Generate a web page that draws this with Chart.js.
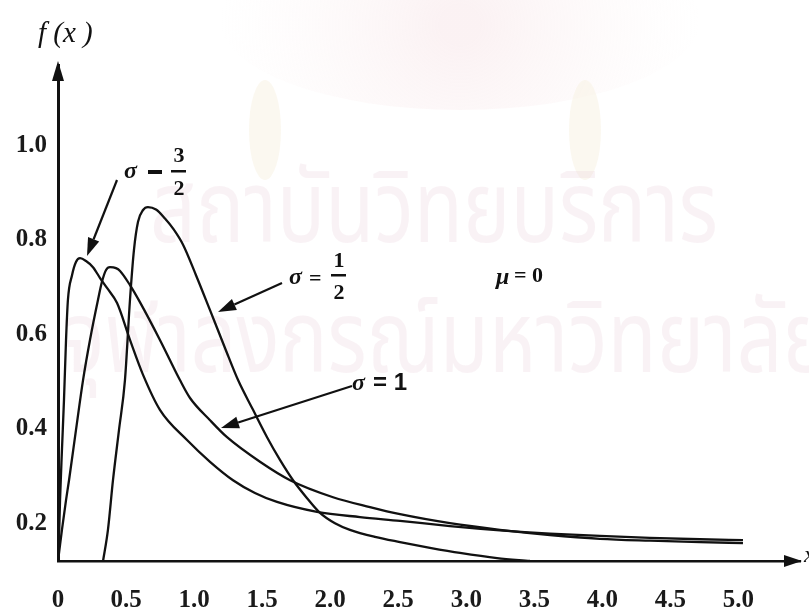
<!DOCTYPE html>
<html><head><meta charset="utf-8">
<script src="https://cdn.jsdelivr.net/npm/chart.js@4.4.1/dist/chart.umd.min.js"></script>
<style>html,body{margin:0;padding:0;background:#fff;overflow:hidden}canvas{display:block}</style>
</head><body>
<canvas id="c" width="809" height="610"></canvas>
<script>
// ---- data ----
const xTickValues = [0, 0.5, 1, 1.5, 2, 2.5, 3, 3.5, 4, 4.5, 5];
const xTickLabels = ['0', '0.5', '1.0', '1.5', '2.0', '2.5', '3.0', '3.5', '4.0', '4.5', '5.0'];
const yTickValues = [0.2, 0.4, 0.6, 0.8, 1.0];
const yTickLabels = ['0.2', '0.4', '0.6', '0.8', '1.0'];

const sigma32X = [0,0.007,0.015,0.029,0.044,0.059,0.073,0.103,0.132,0.162,0.206,0.257,0.309,0.360,0.434,0.529,0.625,0.749,0.948,1.117,1.286,1.447,1.609,1.903,2.219,2.513,2.880,3.247,3.615,3.982,4.349,4.717,5.033];
const sigma32Y = [0.120,0.164,0.249,0.355,0.461,0.588,0.673,0.725,0.753,0.761,0.755,0.742,0.719,0.698,0.666,0.588,0.514,0.440,0.376,0.330,0.291,0.264,0.245,0.224,0.213,0.205,0.194,0.185,0.178,0.173,0.169,0.166,0.164];

const sigma1X = [0,0.029,0.059,0.081,0.132,0.184,0.235,0.294,0.323,0.353,0.382,0.426,0.456,0.529,0.602,0.749,0.896,0.970,1.117,1.242,1.484,1.705,2.021,2.292,2.513,2.880,3.247,3.615,3.982,4.349,4.717,5.033];
const sigma1Y = [0.120,0.186,0.249,0.291,0.397,0.503,0.588,0.673,0.711,0.736,0.742,0.740,0.734,0.704,0.668,0.588,0.503,0.465,0.418,0.382,0.330,0.291,0.255,0.234,0.219,0.200,0.186,0.175,0.167,0.163,0.160,0.158];

const sigmaHalfX = [0.331,0.367,0.404,0.448,0.492,0.529,0.558,0.588,0.625,0.661,0.720,0.786,0.850,0.918,1.014,1.117,1.227,1.323,1.433,1.536,1.631,1.727,1.830,1.925,2.035,2.145,2.329,2.513,2.733,2.954,3.226,3.468];
const sigmaHalfY = [0.120,0.186,0.291,0.397,0.503,0.673,0.778,0.838,0.863,0.869,0.864,0.845,0.822,0.790,0.725,0.651,0.571,0.503,0.440,0.382,0.334,0.291,0.253,0.222,0.200,0.186,0.171,0.160,0.148,0.137,0.126,0.120];

const watermarkLines = ['สถาบันวิทยบริการ', 'จุฬาลงกรณ์มหาวิทยาลัย'];

const pts = (xs, ys) => xs.map((x, i) => ({x, y: ys[i]}));

const serif = "'Liberation Serif','DejaVu Serif',serif";

function arrow(ctx, x1, y1, x2, y2, head, half) {
  const a = Math.atan2(y2 - y1, x2 - x1);
  const bx = x2 - head * Math.cos(a), by = y2 - head * Math.sin(a);
  ctx.beginPath(); ctx.moveTo(x1, y1); ctx.lineTo(bx, by); ctx.stroke();
  ctx.beginPath();
  ctx.moveTo(x2, y2);
  ctx.lineTo(bx + half * Math.sin(a), by - half * Math.cos(a));
  ctx.lineTo(bx - half * Math.sin(a), by + half * Math.cos(a));
  ctx.closePath(); ctx.fill();
}

function fitText(ctx, text, x0, x1, baseline) {
  const w = ctx.measureText(text).width;
  ctx.save();
  ctx.translate(x0, baseline);
  ctx.scale((x1 - x0) / w, 1);
  ctx.fillText(text, 0, 0);
  ctx.restore();
}

const watermark = {
  id: 'watermark',
  beforeDraw(chart) {
    const ctx = chart.ctx;
    ctx.save();
    // faint emblem
    const g = ctx.createRadialGradient(460, 25, 20, 460, 25, 240);
    g.addColorStop(0, 'rgba(240,205,210,0.26)');
    g.addColorStop(1, 'rgba(248,230,230,0.0)');
    ctx.fillStyle = g;
    ctx.beginPath(); ctx.ellipse(460, 20, 240, 90, 0, 0, Math.PI * 2); ctx.fill();
    ctx.fillStyle = 'rgba(248,242,228,0.55)';
    ctx.beginPath(); ctx.ellipse(265, 130, 16, 50, 0, 0, Math.PI * 2); ctx.fill();
    ctx.beginPath(); ctx.ellipse(585, 130, 16, 50, 0, 0, Math.PI * 2); ctx.fill();
    // faint Thai text
    ctx.fillStyle = 'rgba(232,200,214,0.24)';
    ctx.textBaseline = 'alphabetic';
    ctx.textAlign = 'left';
    ctx.font = "100px 'Noto Sans Thai','Noto Sans','DejaVu Sans',sans-serif";
    fitText(ctx, watermarkLines[0], 150, 718, 242);
    fitText(ctx, watermarkLines[1], 62, 830, 372);
    ctx.restore();
  }
};

const annotations = {
  id: 'annotations',
  afterDraw(chart) {
    const ctx = chart.ctx;
    const ca = chart.chartArea;
    ctx.save();
    ctx.fillStyle = '#111';
    ctx.strokeStyle = '#111';
    // axis arrowheads
    ctx.beginPath(); ctx.moveTo(ca.left, ca.top - 4); ctx.lineTo(ca.left - 6, ca.top + 16); ctx.lineTo(ca.left + 6, ca.top + 16); ctx.closePath(); ctx.fill();
    ctx.beginPath(); ctx.moveTo(ca.right + 2, ca.bottom); ctx.lineTo(ca.right - 16, ca.bottom - 6); ctx.lineTo(ca.right - 16, ca.bottom + 6); ctx.closePath(); ctx.fill();
    // axis titles
    ctx.textBaseline = 'middle';
    ctx.textAlign = 'left';
    ctx.font = 'italic 29px ' + serif;
    ctx.fillText('f (x )', 38, 34);
    ctx.font = 'italic 24px ' + serif;
    ctx.fillText('x', 804, 556);

    // sigma = 3/2
    ctx.font = 'italic bold 24px ' + serif;
    ctx.fillText('σ', 124, 172);
    ctx.fillRect(148, 170, 14, 4);
    ctx.font = 'bold 22px ' + serif;
    ctx.textAlign = 'center';
    ctx.fillText('3', 179, 156);
    ctx.fillText('2', 179, 189);
    ctx.fillRect(171, 170, 15, 2.5);
    // sigma = 1/2
    ctx.textAlign = 'left';
    ctx.font = 'italic bold 24px ' + serif;
    ctx.fillText('σ', 289, 278);
    ctx.font = 'bold 22px ' + serif;
    ctx.fillText('=', 309, 279);
    ctx.textAlign = 'center';
    ctx.fillText('1', 339, 261);
    ctx.fillText('2', 339, 293);
    ctx.fillRect(331, 274, 15, 2.5);
    // mu = 0
    ctx.textAlign = 'left';
    ctx.font = 'italic bold 24px ' + serif;
    ctx.fillText('μ', 496, 278);
    ctx.font = 'bold 22px ' + serif;
    ctx.fillText('= 0', 514, 276);
    // sigma = 1
    ctx.font = 'italic bold 24px ' + serif;
    ctx.fillText('σ', 352, 384);
    ctx.font = "bold 24px 'Liberation Sans','DejaVu Sans',sans-serif";
    ctx.fillText('= 1', 373, 383);

    // arrows
    ctx.lineWidth = 2.2;
    arrow(ctx, 117, 180, 87, 256, 18, 6);
    arrow(ctx, 282, 283, 218, 312, 18, 6);
    arrow(ctx, 352, 386, 221, 428, 18, 6);
    ctx.restore();
  }
};

const lineStyle = {
  borderColor: '#111', borderWidth: 2.3, pointRadius: 0, fill: false,
  cubicInterpolationMode: 'monotone'
};

new Chart(document.getElementById('c'), {
  type: 'line',
  data: {
    datasets: [
      Object.assign({label: 'σ = 3/2', data: pts(sigma32X, sigma32Y)}, lineStyle),
      Object.assign({label: 'σ = 1', data: pts(sigma1X, sigma1Y)}, lineStyle),
      Object.assign({label: 'σ = 1/2', data: pts(sigmaHalfX, sigmaHalfY)}, lineStyle)
    ]
  },
  options: {
    responsive: false,
    animation: false,
    devicePixelRatio: 1,
    layout: {padding: {top: 65, right: 9, left: 0, bottom: 0}},
    plugins: {legend: {display: false}, tooltip: {enabled: false}},
    scales: {
      x: {
        type: 'linear', min: 0, max: 5.452,
        grid: {display: false, drawTicks: false},
        border: {display: true, color: '#111', width: 2.5},
        afterBuildTicks: s => { s.ticks = xTickValues.map(v => ({value: v})); },
        afterFit: s => { s.height = 49; },
        ticks: {
          padding: 25, color: '#1a1a1a', maxRotation: 0, autoSkip: false,
          font: {family: serif, size: 25, weight: 'bold'},
          callback: (v, i) => xTickLabels[i]
        }
      },
      y: {
        type: 'linear', min: 0.12, max: 1.17,
        grid: {display: false, drawTicks: false},
        border: {display: true, color: '#111', width: 3},
        afterBuildTicks: s => { s.ticks = yTickValues.map(v => ({value: v})); },
        afterFit: s => { s.width = 58; },
        ticks: {
          padding: 11, color: '#1a1a1a', autoSkip: false,
          font: {family: serif, size: 25, weight: 'bold'},
          callback: (v, i) => yTickLabels[i]
        }
      }
    }
  },
  plugins: [watermark, annotations]
});
</script>
</body></html>
